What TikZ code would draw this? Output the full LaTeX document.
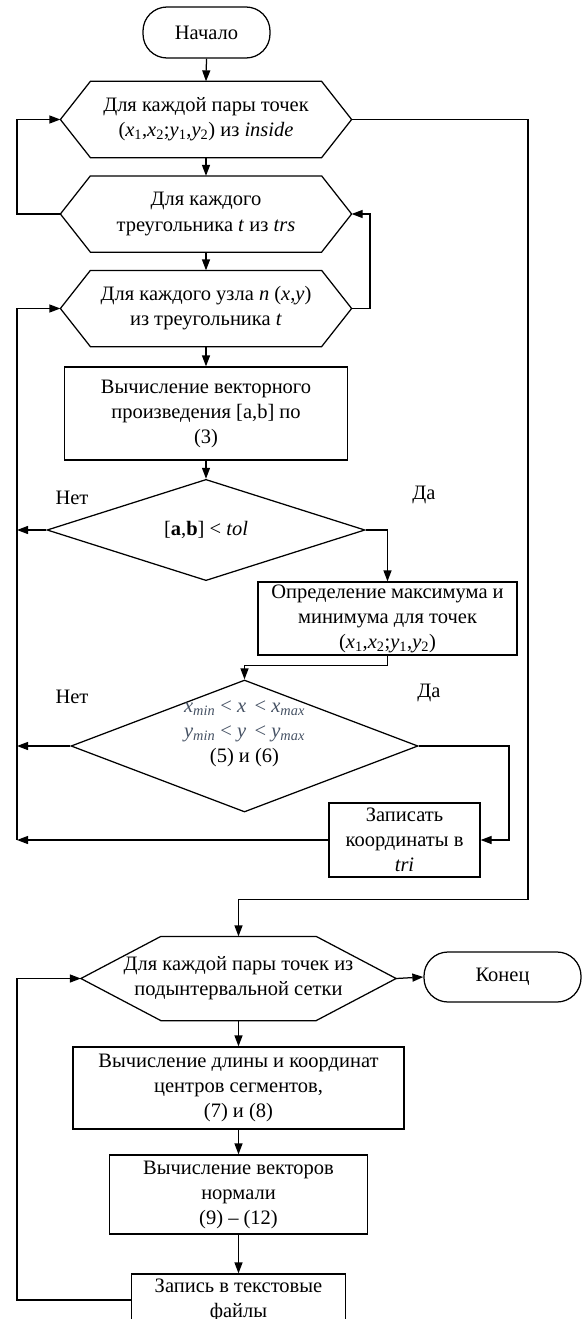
\documentclass[tikz,border=0pt]{standalone}
\usepackage{fontspec}
\setmainfont{Liberation Serif}
\usetikzlibrary{shapes.geometric,arrows.meta}

\definecolor{eqcol}{RGB}{70,82,100}
\newcommand\iv[2]{\textit{#1}\textsubscript{#2}}
% hexagon round a loop node, #2 = slant
\newcommand\hexframe[2]{%
  \draw ([xshift=#2]#1.north west) -- ([xshift=-#2]#1.north east) -- (#1.east)
    -- ([xshift=-#2]#1.south east) -- ([xshift=#2]#1.south west) -- (#1.west) -- cycle;}

\tikzset{
  txt/.style={font=\fontsize{20.5}{25}\selectfont, align=center, inner sep=0pt},
  loopbox/.style={txt, minimum width=290pt, minimum height=75pt},
  procbox/.style={txt, draw, rectangle},
  term/.style={txt, draw, rounded corners=24pt},
  cond/.style={txt, draw, diamond},
}

\begin{document}
\begin{tikzpicture}[x=1pt, y=-1pt, line width=1.25pt, >={Triangle[length=11pt,width=8pt]}]
  \useasboundingbox (0,0) rectangle (583,1319);

  \coordinate (railL) at (17,0);
  \coordinate (railM) at (370,0);
  \coordinate (railD) at (509,0);
  \coordinate (railR) at (528,0);

  \node[term, minimum width=127pt, minimum height=51pt] (start) at (206.5,32.5) {Начало};

  \node[loopbox] (h1) at (206,119.5) {Для каждой пары точек\\(\iv{x}{1},\iv{x}{2};\iv{y}{1},\iv{y}{2}) из \textit{inside}};
  \node[loopbox] (h2) at (206,214) {Для каждого\\треугольника \textit{t} из \textit{trs}};
  \node[loopbox] (h3) at (206,308.5) {Для каждого узла \textit{n} (\textit{x},\textit{y})\\из треугольника \textit{t}};
  \hexframe{h1}{30pt}
  \hexframe{h2}{30pt}
  \hexframe{h3}{30pt}

  \node[procbox, minimum width=283pt, minimum height=93pt] (v1) at (206,413.5) {Вычисление векторного\\произведения [a,b] по\\(3)};
  \node[cond, minimum width=318pt, minimum height=96pt] (d1) at (206,530) {[\textbf{a},\textbf{b}] < \textit{tol}};
  \node[txt] (no1) at (72,498) {Нет};
  \node[txt] (yes1) at (424,495) {Да};

  \node[procbox, minimum width=259pt, minimum height=73pt] (mm) at (387.5,618.5) {Определение максимума и\\минимума для точек\\(\iv{x}{1},\iv{x}{2};\iv{y}{1},\iv{y}{2})};

  \node[cond, minimum width=347pt, minimum height=132pt] (d2) at (244.5,746) {};
  \node[txt] (d2t) at (244.5,734) {{\color{eqcol}\iv{x}{\textit{min}} < \textit{x}\, < \iv{x}{\textit{max}}}\\{\color{eqcol}\iv{y}{\textit{min}} < \textit{y}\, < \iv{y}{\textit{max}}}\\(5) и (6)};
  \node[txt] (no2) at (72,697) {Нет};
  \node[txt] (yes2) at (429,693) {Да};

  \node[procbox, minimum width=151pt, minimum height=74pt] (wr) at (404.5,840) {Записать\\координаты в\\\textit{tri}};

  \node[loopbox, minimum width=314pt, minimum height=83pt] (h4) at (238.5,978.5) {Для каждой пары точек из\\подынтервальной сетки};
  \hexframe{h4}{80pt}
  \node[term, minimum width=157pt, minimum height=50pt] (end) at (502.5,977) {Конец};

  \node[procbox, minimum width=331pt, minimum height=82pt] (len) at (238.5,1088) {Вычисление длины и координат\\центров сегментов,\\(7) и (8)};
  \node[procbox, minimum width=258pt, minimum height=79pt] (nrm) at (238.5,1194.5) {Вычисление векторов\\нормали\\(9) -- (12)};
  \node[procbox, minimum width=214pt, minimum height=52pt] (out) at (238.5,1300) {Запись в текстовые\\файлы};

  % main flow
  \draw[->] (start.south) -- (h1.north);
  \draw[->] (h1.south) -- (h2.north);
  \draw[->] (h2.south) -- (h3.north);
  \draw[->] (h3.south) -- (v1.north);
  \draw[->] (v1.south) -- (d1.north);
  \draw[->] (d1.east) -| (mm.north);
  \draw[->] (mm.south) -- ++(0,10) -| (d2.north);
  \draw[->] (d2.east) -- (d2.east -| railD) |- (wr.east);

  % loops
  \draw[->] (h2.west) -- (h2.west -| railL) |- (h1.west);
  \draw[->] (h3.east) -- (h3.east -| railM) |- (h2.east);
  \draw[->] (d1.west) -- (d1.west -| railL);
  \draw[->] (d2.west) -- (d2.west -| railL);
  \draw[->] (wr.west) -- (wr.west -| railL);
  \draw[->] (wr.west -| railL) |- (h3.west);

  % second part
  \coordinate (turn) at ([yshift=37pt]h4.north);
  \draw[->] (h1.east) -| (turn -| railR) -- (turn) -- (h4.north);
  \draw[->] (h4.east) -- (end.west);
  \draw[->] (h4.south) -- (len.north);
  \draw[->] (len.south) -- (nrm.north);
  \draw[->] (nrm.south) -- (out.north);
  \draw[->] (out.west) -- (out.west -| railL) |- (h4.west);
\end{tikzpicture}
\end{document}
